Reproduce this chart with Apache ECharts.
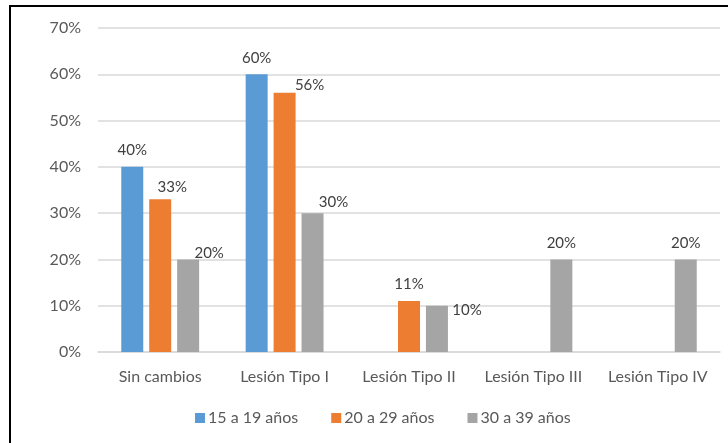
<!DOCTYPE html>
<html>
<head>
<meta charset="utf-8">
<script src="https://cdn.jsdelivr.net/npm/echarts@6/dist/echarts.min.js"></script>
<style>
  html, body { margin: 0; padding: 0; background: #fff; }
  #chart { width: 728px; height: 443px; }
</style>
</head>
<body>
<div id="chart"></div>
<script>
// Categories and series values (percent)
const categories = ['Sin cambios', 'Lesión Tipo I', 'Lesión Tipo II', 'Lesión Tipo III', 'Lesión Tipo IV'];
const seriesNames = ['15 a 19 años', '20 a 29 años', '30 a 39 años'];
const values15to19 = [40, 60, null, null, null];
const values20to29 = [33, 56, 11, null, null];
const values30to39 = [20, 30, 10, 20, 20];
const yTicks = [0, 10, 20, 30, 40, 50, 60, 70];

const colors = ['#5B9BD5', '#ED7D31', '#A5A5A5'];
const FONT = 'Lato';

// Label nudges so neighbouring value labels don't collide
const labelOffsets = [
  [[0, 0], [0, 0], [0, 0], [0, 0], [0, 0]],
  [[12, 4], [25, 9], [0, 0], [0, 0], [0, 0]],
  [[21, 10], [21, 6], [30, 21], [0, 0], [0, 0]]
];

const allValues = [values15to19, values20to29, values30to39];

const series = allValues.map((vals, si) => ({
  name: seriesNames[si],
  type: 'bar',
  barWidth: 22,
  barGap: '27%',
  itemStyle: { color: colors[si] },
  data: vals.map((v, ci) => ({
    value: v,
    label: {
      show: v !== null,
      position: 'top',
      distance: 9,
      offset: labelOffsets[si][ci],
      formatter: p => p.value + '%',
      color: '#404040',
      fontFamily: FONT,
      fontSize: 15
    }
  }))
}));

const chart = echarts.init(document.getElementById('chart'), null, { renderer: 'canvas' });
chart.setOption({
  animation: false,
  backgroundColor: '#fff',
  color: colors,
  grid: { left: 98, right: 8, top: 28, bottom: 91, containLabel: false },
  graphic: [{
    type: 'rect',
    shape: { x: 10, y: 6, width: 800, height: 500 },
    style: { fill: 'none', stroke: '#000', lineWidth: 2 },
    silent: true
  }],
  legend: {
    data: seriesNames,
    bottom: 12,
    left: 190,
    icon: 'rect',
    itemWidth: 10,
    itemHeight: 10,
    itemGap: 33,
    textStyle: { color: '#595959', fontFamily: FONT, fontSize: 16, padding: [0, 0, 0, -2] }
  },
  xAxis: {
    type: 'category',
    data: categories,
    axisTick: { show: false },
    axisLine: { show: true, lineStyle: { color: '#D9D9D9', width: 1.5 } },
    axisLabel: { interval: 0, color: '#595959', fontFamily: FONT, fontSize: 16, margin: 17 }
  },
  yAxis: {
    type: 'value',
    min: yTicks[0],
    max: yTicks[yTicks.length - 1],
    interval: 10,
    axisLine: { show: false },
    axisTick: { show: false },
    splitLine: { lineStyle: { color: '#D9D9D9', width: 1.5 } },
    axisLabel: { color: '#595959', fontFamily: FONT, fontSize: 16, margin: 17, formatter: v => v + '%' }
  },
  series: series
});
</script>
</body>
</html>
